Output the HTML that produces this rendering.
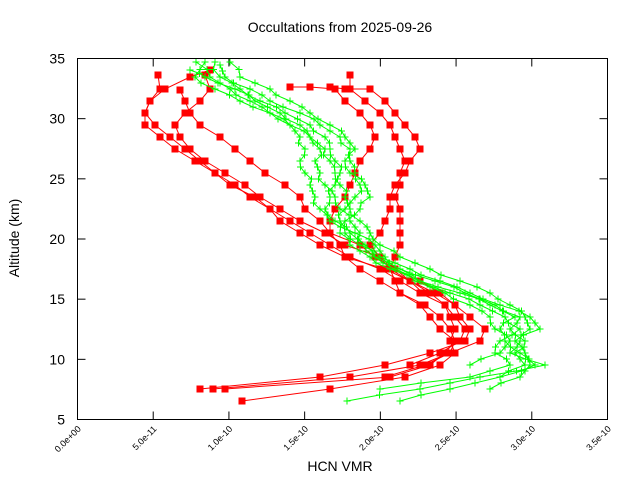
<!DOCTYPE html>
<html><head><meta charset="utf-8"><style>
html,body{margin:0;padding:0;background:#fff;}
svg{display:block;font-family:"Liberation Sans",sans-serif;}
</style></head><body>
<svg id="s" width="640" height="480" viewBox="0 0 640 480" xmlns="http://www.w3.org/2000/svg">
<rect width="640" height="480" fill="#fff"/>
<text x="340" y="32" font-size="14" text-anchor="middle">Occultations from 2025-09-26</text>
<text x="340" y="471" font-size="14" text-anchor="middle">HCN VMR</text>
<text transform="translate(19,238) rotate(-90)" font-size="14" text-anchor="middle">Altitude (km)</text>
<g id="ax" stroke="#000" stroke-width="1" fill="none"></g>
<g id="lab" font-size="14" text-anchor="end"></g>
<g id="data"></g>
<rect x="77.5" y="58.5" width="530" height="361" fill="none" stroke="#000"/>
</svg>
<script>
const NS="http://www.w3.org/2000/svg";
function el(p,t,a,txt){const e=document.createElementNS(NS,t);for(const k in a)e.setAttribute(k,a[k]);if(txt)e.textContent=txt;p.appendChild(e);return e;}
const ax=document.getElementById('ax'),lab=document.getElementById('lab'),d=document.getElementById('data');
const L=77.5,R=607.5,T=58.5,B=419.5;
for(let i=0;i<=6;i++){const y=B-i*(B-T)/6;
 el(ax,'line',{x1:L,y1:y,x2:L+8,y2:y});el(ax,'line',{x1:R,y1:y,x2:R-8,y2:y});
 el(lab,'text',{x:65,y:y+5},String(5+i*5));}
const xl=["0.0e+00","5.0e-11","1.0e-10","1.5e-10","2.0e-10","2.5e-10","3.0e-10","3.5e-10"];
for(let i=0;i<=7;i++){const x=L+i*(R-L)/7;
 el(ax,'line',{x1:x,y1:B,x2:x,y2:B-8});el(ax,'line',{x1:x,y1:T,x2:x,y2:T+8});
 el(d,'text',{x:x+4,y:B+10,'font-size':9,'text-anchor':'end',transform:`rotate(-45 ${x+4} ${B+10})`},xl[i]);}
function P(s){return s.trim().split(/\s*;\s*/).map(p=>p.split(',').map(Number));}
function dense(p){const o=[];for(let i=0;i<p.length;i++){o.push(p[i]);if(i<p.length-1){const j=((i*7)%5-2)*2;o.push([(p[i][0]+p[i+1][0])/2+j,(p[i][1]+p[i+1][1])/2]);}}return o;}
const red=[
"242,401;330,389;405,377;440,365;455,353;450,341;455,329;450,317;445,305;420,293;400,281;380,269;350,257;330,245;310,233;290,221;270,209;255,197;230,185;215,173;200,161;185,149;170,137;155,125;145,113;150,101;165,89;190,77;210,70",
"200,389;320,377;385,365;430,353;465,341;470,329;460,317;455,305;440,293;420,281;395,269;380,257;345,245;325,233;300,221;280,209;260,197;245,185;225,173;205,161;190,149;180,137;175,125;185,113;200,101;210,89;205,75",
"213,389;350,377;420,365;450,353;480,341;485,329;470,317;455,305;435,293;410,281;385,269;345,257;320,245;300,233;280,221;270,209;250,197;235,185;215,173;195,161;175,149;160,137;145,125;145,113;150,101;160,89;158,75",
"225,389;390,377;430,365;445,353;455,341;450,329;440,317;425,305;400,293;395,281;390,269;395,257;400,245;400,233;400,221;400,209;395,197;400,185;400,173;405,161;400,149;395,137;390,125;380,113;365,101;350,89;350,75",
"385,377;425,365;450,353;455,341;440,329;430,317;420,305;400,293;380,281;360,269;345,257;340,245;330,233;330,221;335,209;345,197;350,185;355,173;360,161;370,149;375,137;370,125;360,113;345,101;335,89;310,87;290,87",
"410,365;440,353;460,341;465,329;455,317;445,305;430,293;410,281;390,269;380,257;370,245;380,233;385,221;390,209;390,197;395,185;405,173;410,161;420,149;415,137;405,125;395,113;385,101;370,89;345,89;330,87",
"423,293;410,281;395,269;375,257;360,245;330,233;320,221;305,209;300,197;285,185;265,173;250,161;235,149;220,137;200,125;190,113;185,101;180,90"];
const green=[
"347,401;420,389;480,377;545,365;510,353;520,341;530,329;525,317;510,305;490,293;460,281;430,269;400,257;380,245;370,233;360,221;350,209;345,197;340,185;335,173;330,161;325,149;310,137;290,125;270,113;250,101;230,89;210,77;196,62",
"400,401;450,389;500,377;535,365;525,353;515,341;540,329;530,317;500,305;470,293;440,281;410,269;380,257;360,245;345,233;340,221;345,209;355,197;360,185;355,173;350,161;355,149;345,137;330,125;310,113;290,101;270,89;240,77;230,62",
"490,389;520,377;530,365;520,353;505,341;500,329;515,317;490,305;460,293;420,281;400,269;385,257;375,245;355,233;330,221;320,209;315,197;310,185;305,173;300,161;305,149;300,137;290,125;270,113;240,101;215,89;195,77;205,62",
"380,389;470,377;510,365;495,353;500,341;520,329;505,317;480,305;450,293;420,281;390,269;370,257;350,245;340,233;345,221;360,209;370,197;365,185;350,173;345,161;350,149;340,137;320,125;300,113;270,101;250,89;225,77;220,65",
"500,377;525,365;515,353;525,341;510,329;520,317;495,305;465,293;435,281;400,269;375,257;365,245;350,233;335,221;325,209;330,197;335,185;340,173;335,161;330,149;325,137;310,125;285,113;260,101;240,89;220,77;215,62",
"470,365;500,353;510,341;495,329;490,317;470,305;445,293;415,281;395,269;375,257;365,245;360,233;350,221;340,209;335,197;325,185;320,173;315,161;320,149;310,137;300,125;280,113;255,101;235,89;205,77;190,70"];
red.forEach(s=>{const p=P(s);el(d,'polyline',{points:p.map(q=>q.join(',')).join(' '),fill:'none',stroke:'#f00','stroke-width':1});
 p.forEach(q=>el(d,'rect',{x:q[0]-3.5,y:q[1]-3.5,width:7,height:7,fill:'#f00'}));});
green.forEach(s=>{const p=dense(P(s));el(d,'polyline',{points:p.map(q=>q.join(',')).join(' '),fill:'none',stroke:'#0f0','stroke-width':1});
 p.forEach(q=>{el(d,'path',{d:`M${q[0]-3.5},${q[1]}h7M${q[0]},${q[1]-3.5}v7`,stroke:'#0f0','stroke-width':1});});});
</script>
</body></html>
